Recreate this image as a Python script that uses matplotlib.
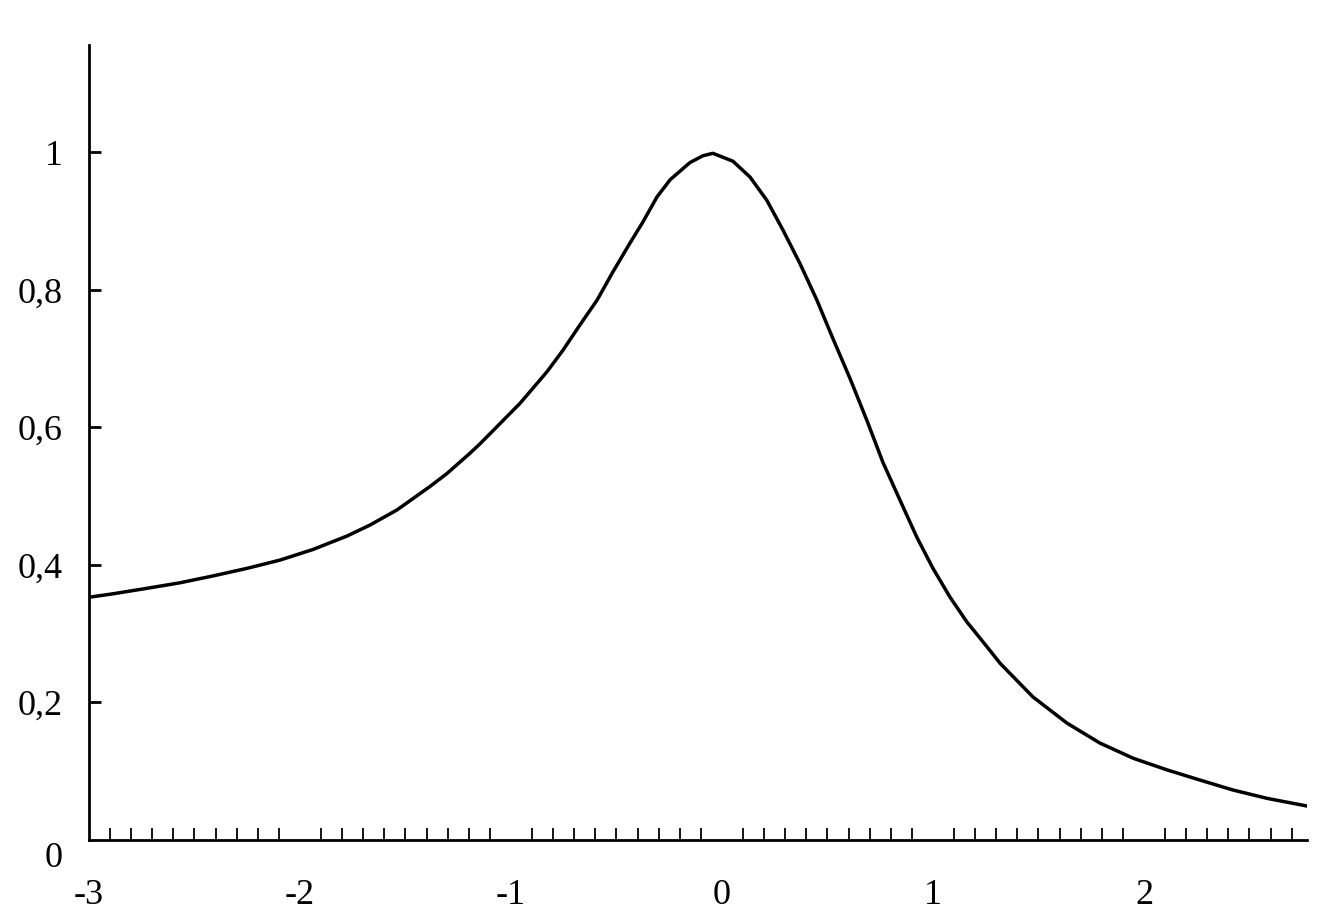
import numpy as np
import matplotlib
matplotlib.use('Agg')
import matplotlib.pyplot as plt
from matplotlib.ticker import FixedLocator

# Curve values
x = [-3.0, -2.886, -2.725, -2.569, -2.412, -2.251, -2.095, -1.938, -1.777,
     -1.668, -1.540, -1.384, -1.303, -1.194, -1.147, -0.957, -0.829, -0.754,
     -0.673, -0.592, -0.517, -0.436, -0.374, -0.308, -0.246, -0.152, -0.090,
     -0.043, 0.052, 0.133, 0.213, 0.289, 0.370, 0.450, 0.526, 0.607,
     0.687, 0.763, 0.844, 0.924, 1.0, 1.081, 1.161, 1.256, 1.318,
     1.474, 1.635, 1.791, 1.948, 2.109, 2.265, 2.422, 2.583, 2.773]
y = [0.353, 0.358, 0.366, 0.374, 0.384, 0.395, 0.407, 0.4225, 0.442,
     0.458, 0.480, 0.514, 0.533, 0.5625, 0.576, 0.635, 0.681, 0.712,
     0.749, 0.785, 0.826, 0.868, 0.899, 0.935, 0.960, 0.985, 0.995,
     0.9985, 0.987, 0.964, 0.930, 0.887, 0.838, 0.785, 0.729, 0.671,
     0.610, 0.549, 0.494, 0.440, 0.395, 0.353, 0.317, 0.281, 0.257,
     0.208, 0.170, 0.141, 0.119, 0.102, 0.0872, 0.0727, 0.0606, 0.0494]

x_ticks = [-3, -2, -1, 0, 1, 2]
y_ticks = [0.2, 0.4, 0.6, 0.8, 1.0]
y_labels = ['0,2', '0,4', '0,6', '0,8', '1']

plt.rcParams['font.family'] = ['Liberation Serif', 'DejaVu Serif']
plt.rcParams['axes.unicode_minus'] = False

fig = plt.figure(figsize=(13.22, 9.24), dpi=100)
ax = fig.add_axes([0.0673, 0.0909, 0.9214, 0.8604])

ax.plot(x, y, color='black', lw=2.5, solid_joinstyle='round')

ax.set_xlim(-3, 2.773)
ax.set_ylim(0, 1.156)
ax.spines['top'].set_visible(False)
ax.spines['right'].set_visible(False)
ax.spines['left'].set_linewidth(2)
ax.spines['bottom'].set_linewidth(2)

# x axis: labels at integers, small inward ticks every 0.1
ax.xaxis.set_major_locator(FixedLocator(x_ticks))
ax.set_xticklabels([str(v) for v in x_ticks])
ax.xaxis.set_minor_locator(FixedLocator(np.round(np.arange(-2.9, 2.75, 0.1), 2)))
ax.tick_params(axis='x', which='major', direction='in', length=0, pad=28, labelsize=26)
ax.tick_params(axis='x', which='minor', direction='in', length=8.5, width=1.3)

ax.set_yticks(y_ticks)
ax.set_yticklabels(y_labels)
ax.tick_params(axis='y', direction='in', length=8.5, width=2, pad=19, labelsize=26)

# the zero label sits a bit below the x axis
ax.annotate('0', xy=(0, 0), xycoords=('axes fraction', 'data'),
            xytext=(-19, -13), textcoords='offset points',
            ha='right', va='center', fontsize=26)

fig.savefig('out.png', dpi=100)
